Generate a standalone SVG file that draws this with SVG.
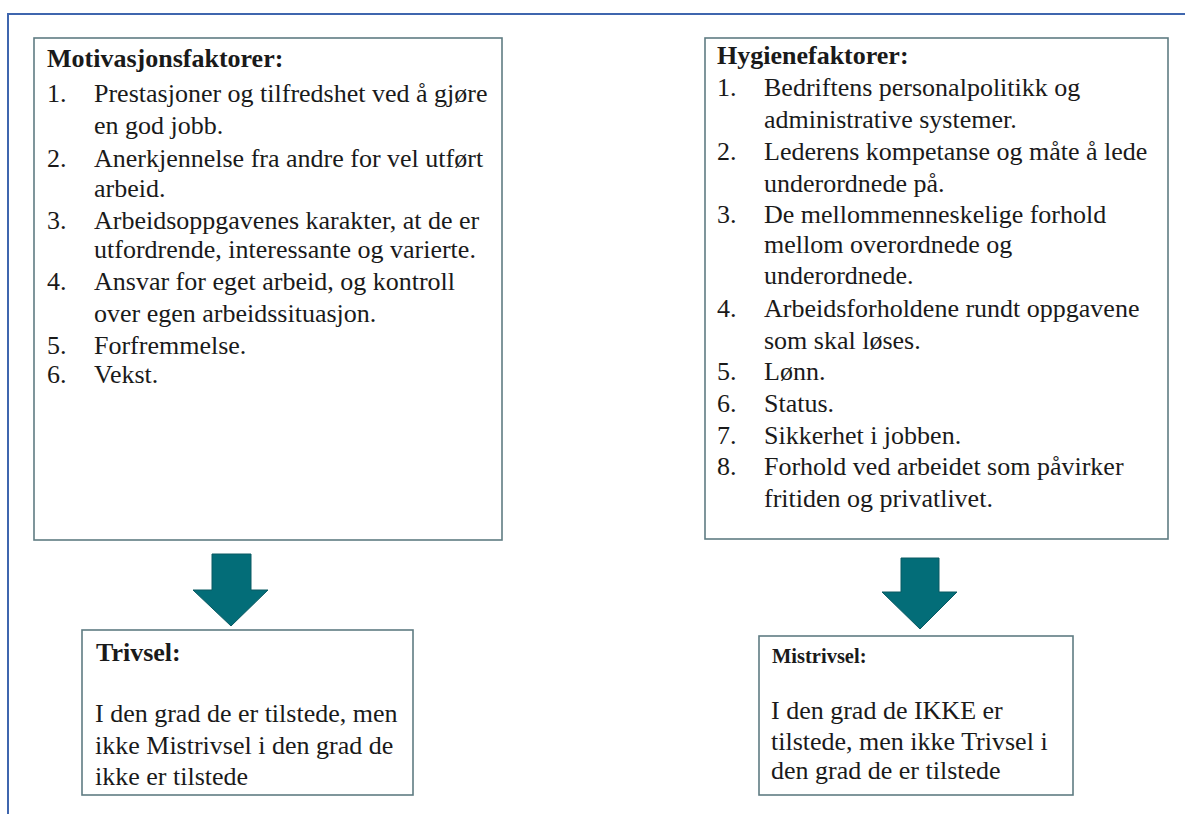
<svg xmlns="http://www.w3.org/2000/svg" width="1185" height="814" viewBox="0 0 1185 814">
<style>
  .frame { fill: none; stroke: #3f66ae; stroke-width: 2; }
  .box { fill: #ffffff; stroke: #5f7c83; stroke-width: 1.6; }
  .t { font-family: "Liberation Serif", "Times New Roman", serif; font-size: 26px; fill: #1a1a1a; }
  .h { font-weight: bold; }
  .hs { font-size: 20.5px; }
  .arrow { fill: #036d78; stroke: #0b5a63; stroke-width: 1; }
</style>
<rect x="0" y="0" width="1185" height="814" fill="#ffffff"/>
<path class="frame" d="M8,814 L8,14 L1185,14"/>

<g id="motivasjonsfaktorer">
  <rect class="box" x="34" y="38" width="468" height="502"/>
  <text class="t h" x="47" y="67">Motivasjonsfaktorer:</text>
  <text class="t" x="47" y="102">1.</text><text class="t" x="94" y="102">Prestasjoner og tilfredshet ved å gjøre</text>
  <text class="t" x="94" y="134">en god jobb.</text>
  <text class="t" x="47" y="167">2.</text><text class="t" x="94" y="167">Anerkjennelse fra andre for vel utført</text>
  <text class="t" x="94" y="197">arbeid.</text>
  <text class="t" x="47" y="229">3.</text><text class="t" x="94" y="229">Arbeidsoppgavenes karakter, at de er</text>
  <text class="t" x="94" y="258">utfordrende, interessante og varierte.</text>
  <text class="t" x="47" y="290">4.</text><text class="t" x="94" y="290">Ansvar for eget arbeid, og kontroll</text>
  <text class="t" x="94" y="322">over egen arbeidssituasjon.</text>
  <text class="t" x="47" y="354">5.</text><text class="t" x="94" y="354">Forfremmelse.</text>
  <text class="t" x="47" y="383">6.</text><text class="t" x="94" y="383">Vekst.</text>
</g>

<g id="hygienefaktorer">
  <rect class="box" x="705" y="38" width="463" height="501"/>
  <text class="t h" x="717" y="64">Hygienefaktorer:</text>
  <text class="t" x="717" y="96">1.</text><text class="t" x="764" y="96">Bedriftens personalpolitikk og</text>
  <text class="t" x="764" y="128">administrative systemer.</text>
  <text class="t" x="717" y="160">2.</text><text class="t" x="764" y="160">Lederens kompetanse og måte å lede</text>
  <text class="t" x="764" y="192">underordnede på.</text>
  <text class="t" x="717" y="223">3.</text><text class="t" x="764" y="223">De mellommenneskelige forhold</text>
  <text class="t" x="764" y="253">mellom overordnede og</text>
  <text class="t" x="764" y="284">underordnede.</text>
  <text class="t" x="717" y="317">4.</text><text class="t" x="764" y="317">Arbeidsforholdene rundt oppgavene</text>
  <text class="t" x="764" y="349">som skal løses.</text>
  <text class="t" x="717" y="380">5.</text><text class="t" x="764" y="380">Lønn.</text>
  <text class="t" x="717" y="412">6.</text><text class="t" x="764" y="412">Status.</text>
  <text class="t" x="717" y="444">7.</text><text class="t" x="764" y="444">Sikkerhet i jobben.</text>
  <text class="t" x="717" y="475">8.</text><text class="t" x="764" y="475">Forhold ved arbeidet som påvirker</text>
  <text class="t" x="764" y="507">fritiden og privatlivet.</text>
</g>

<g id="trivsel">
  <rect class="box" x="82" y="630" width="331" height="165"/>
  <text class="t h" x="96" y="661">Trivsel:</text>
  <text class="t" x="95" y="722">I den grad de er tilstede, men</text>
  <text class="t" x="95" y="754">ikke Mistrivsel i den grad de</text>
  <text class="t" x="95" y="785">ikke er tilstede</text>
</g>

<g id="mistrivsel">
  <rect class="box" x="759" y="636" width="314" height="159"/>
  <text class="t h hs" x="772" y="663">Mistrivsel:</text>
  <text class="t" x="771" y="719">I den grad de IKKE er</text>
  <text class="t" x="771" y="750">tilstede, men ikke Trivsel i</text>
  <text class="t" x="771" y="779">den grad de er tilstede</text>
</g>

<g id="connectors">
  <path class="arrow" d="M212,554 L251,554 L251,590 L268,590 L231,626 L193,590 L212,590 Z"/>
  <path class="arrow" d="M901,558 L939,558 L939,592 L957,592 L920,629 L882,592 L901,592 Z"/>
</g>
</svg>
